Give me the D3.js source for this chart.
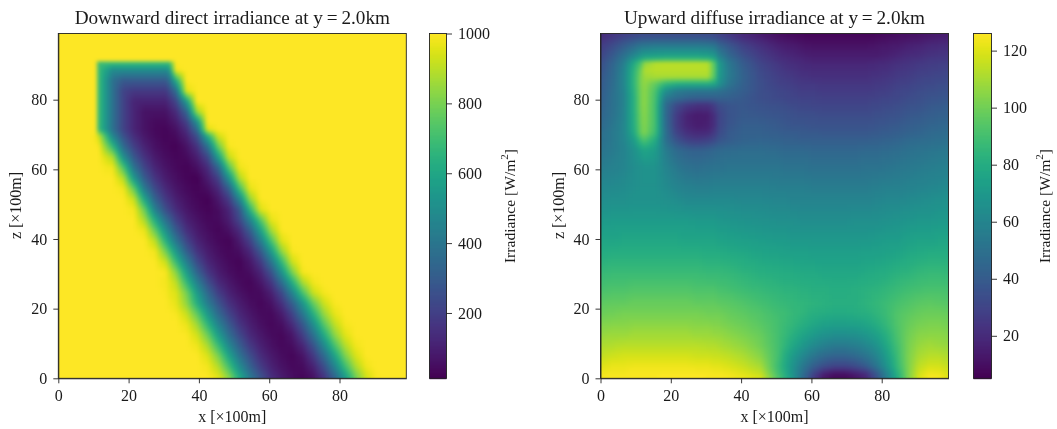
<!DOCTYPE html>
<html><head><meta charset="utf-8">
<script src="https://cdnjs.cloudflare.com/ajax/libs/d3/7.8.5/d3.min.js"></script>
<style>
html,body{margin:0;padding:0;background:#fff;overflow:hidden}
#chart{filter:blur(0.45px)}
svg{display:block}
text{font-family:"Liberation Serif",serif;fill:#1a1a1a}
</style></head><body><div id="chart"></div>
<script>
const titles=["Downward direct irradiance at y\u2009=\u20092.0km","Upward diffuse irradiance at y\u2009=\u20092.0km"];
const xLabel="x [\u00d7100m]", zLabel="z [\u00d7100m]", cbLabel="Irradiance [W/m";
const axisTicks=[0,20,40,60,80];
const directTicks=[200,400,600,800,1000];
const diffuseTicks=[20,40,60,80,100,120];
const directRange=[13,1000];
const diffuseRange=[5.1,126];

const directX=[0,3,6,9,10,11,15,18,21,24,27,30,31,33,36,39,42,45,48,51,54,57,60,63,66,69,72,75,78,81,84,87,90,93,96,99];
const directZ=[0,3,6,9,12,15,18,21,24,27,30,33,36,39,42,45,48,51,54,57,60,63,66,69,71,73,76,79,82,85,88,90,91,99];
const directValues=[
[1000,1000,1000,1000,1000,1000,1000,1000,1000,1000,1000,1000,1000,1000,1000,1000,996,953,820,607,410,261,145,87,48,30,60,163,328,552,781,930,994,1000,1000,1000],
[1000,1000,1000,1000,1000,1000,1000,1000,1000,1000,1000,1000,1000,1000,1000,1000,982,885,703,492,320,189,107,61,36,43,109,245,453,688,875,977,1000,1000,1000,1000],
[1000,1000,1000,1000,1000,1000,1000,1000,1000,1000,1000,1000,1000,1000,1000,998,943,800,588,392,247,137,82,46,28,65,176,350,575,800,940,998,1000,1000,1000,1000],
[1000,1000,1000,1000,1000,1000,1000,1000,1000,1000,1000,1000,1000,1000,1000,976,870,680,472,306,178,102,58,34,47,120,265,475,710,888,980,1000,1000,1000,1000,1000],
[1000,1000,1000,1000,1000,1000,1000,1000,1000,1000,1000,1000,1000,1000,995,928,776,562,370,230,127,76,43,31,73,195,377,608,825,953,1000,1000,1000,1000,1000,1000],
[1000,1000,1000,1000,1000,1000,1000,1000,1000,1000,1000,1000,1000,1000,970,855,658,452,292,167,97,55,32,50,133,282,497,735,900,985,1000,1000,1000,1000,1000,1000],
[1000,1000,1000,1000,1000,1000,1000,1000,1000,1000,1000,1000,997,990,916,755,542,355,217,121,72,41,35,84,208,400,632,840,960,1000,1000,1000,1000,1000,1000,1000],
[1000,1000,1000,1000,1000,1000,1000,1000,1000,1000,1000,1000,987,962,835,628,427,275,153,92,51,30,56,150,307,528,762,920,992,1000,1000,1000,1000,1000,1000,1000],
[1000,1000,1000,1000,1000,1000,1000,1000,1000,1000,1000,994,970,948,791,555,348,196,107,62,35,40,97,231,452,709,915,984,1000,1000,1000,1000,1000,1000,1000,1000],
[1000,1000,1000,1000,1000,1000,1000,1000,1000,1000,999,986,960,903,673,441,253,132,76,42,26,68,165,360,620,870,980,1000,1000,1000,1000,1000,1000,1000,1000,1000],
[1000,1000,1000,1000,1000,1000,1000,1000,1000,1000,1000,990,933,818,558,327,170,92,51,30,47,112,262,519,799,987,1000,1000,1000,1000,1000,1000,1000,1000,1000,1000],
[1000,1000,1000,1000,1000,1000,1000,1000,1000,1000,995,920,838,675,430,235,119,68,38,23,74,180,393,670,925,1000,1000,1000,1000,1000,1000,1000,1000,1000,1000,1000],
[1000,1000,1000,1000,1000,1000,1000,1000,1000,1000,980,790,705,534,308,158,87,48,29,51,123,285,546,835,990,1000,1000,1000,1000,1000,1000,1000,1000,1000,1000,1000],
[1000,1000,1000,1000,1000,1000,1000,1000,1000,1000,900,640,559,398,215,110,63,36,22,83,201,429,710,950,1000,1000,1000,1000,1000,1000,1000,1000,1000,1000,1000,1000],
[1000,1000,1000,1000,1000,1000,1000,1000,1000,970,765,510,437,290,147,82,46,27,55,133,306,573,860,995,1000,1000,1000,1000,1000,1000,1000,1000,1000,1000,1000,1000],
[1000,1000,1000,1000,1000,1000,1000,1000,998,875,614,376,318,201,104,60,34,38,91,219,456,736,965,1000,1000,1000,1000,1000,1000,1000,1000,1000,1000,1000,1000,1000],
[1000,1000,1000,1000,1000,1000,1000,1000,983,770,440,245,208,133,72,41,23,46,114,280,650,950,1000,1000,1000,1000,1000,1000,1000,1000,1000,1000,1000,1000,1000,1000],
[1000,1000,1000,1000,1000,1000,1000,1000,915,590,320,177,150,95,53,30,18,78,185,460,840,995,1000,1000,1000,1000,1000,1000,1000,1000,1000,1000,1000,1000,1000,1000],
[1000,1000,1000,1000,1000,1000,1000,980,760,415,230,125,106,68,39,23,50,125,310,690,965,1000,1000,1000,1000,1000,1000,1000,1000,1000,1000,1000,1000,1000,1000,1000],
[1000,1000,1000,1000,1000,1000,1000,890,540,295,163,87,74,49,28,17,88,205,515,880,1000,1000,1000,1000,1000,1000,1000,1000,1000,1000,1000,1000,1000,1000,1000,1000],
[1000,1000,1000,1000,1000,1000,975,725,390,217,117,64,55,36,21,52,135,335,730,975,1000,1000,1000,1000,1000,1000,1000,1000,1000,1000,1000,1000,1000,1000,1000,1000],
[1000,1000,1000,1000,1000,1000,880,510,280,155,82,46,40,27,37,95,225,560,915,1000,1000,1000,1000,1000,1000,1000,1000,1000,1000,1000,1000,1000,1000,1000,1000,1000],
[1000,1000,1000,1000,1000,990,665,358,200,108,59,34,29,20,60,155,378,770,990,1000,1000,1000,1000,1000,1000,1000,1000,1000,1000,1000,1000,1000,1000,1000,1000,1000],
[1000,1000,1000,1000,985,920,470,260,142,76,43,25,30,42,105,255,620,930,1000,1000,1000,1000,1000,1000,1000,1000,1000,1000,1000,1000,1000,1000,1000,1000,1000,1000],
[1000,1000,1000,1000,1000,688,380,210,115,63,35,27,37,58,147,367,950,1000,1000,1000,1000,1000,1000,1000,1000,1000,1000,1000,1000,1000,1000,1000,1000,1000,1000,1000],
[1000,1000,1000,1000,1000,688,380,210,115,63,38,38,54,85,200,500,1000,1000,1000,1000,1000,1000,1000,1000,1000,1000,1000,1000,1000,1000,1000,1000,1000,1000,1000,1000],
[1000,1000,1000,1000,1000,688,380,210,115,63,63,63,85,135,330,850,1000,1000,1000,1000,1000,1000,1000,1000,1000,1000,1000,1000,1000,1000,1000,1000,1000,1000,1000,1000],
[1000,1000,1000,1000,1000,688,380,210,115,106,106,106,140,220,550,1000,1000,1000,1000,1000,1000,1000,1000,1000,1000,1000,1000,1000,1000,1000,1000,1000,1000,1000,1000,1000],
[1000,1000,1000,1000,1000,688,380,210,177,177,177,177,230,367,950,1000,1000,1000,1000,1000,1000,1000,1000,1000,1000,1000,1000,1000,1000,1000,1000,1000,1000,1000,1000,1000],
[1000,1000,1000,1000,1000,688,380,294,294,294,294,294,360,620,1000,1000,1000,1000,1000,1000,1000,1000,1000,1000,1000,1000,1000,1000,1000,1000,1000,1000,1000,1000,1000,1000],
[1000,1000,1000,1000,1000,688,490,490,490,490,490,490,520,980,1000,1000,1000,1000,1000,1000,1000,1000,1000,1000,1000,1000,1000,1000,1000,1000,1000,1000,1000,1000,1000,1000],
[1000,1000,1000,1000,1000,688,688,688,688,688,688,688,688,1000,1000,1000,1000,1000,1000,1000,1000,1000,1000,1000,1000,1000,1000,1000,1000,1000,1000,1000,1000,1000,1000,1000],
[1000,1000,1000,1000,1000,1000,1000,1000,1000,1000,1000,1000,1000,1000,1000,1000,1000,1000,1000,1000,1000,1000,1000,1000,1000,1000,1000,1000,1000,1000,1000,1000,1000,1000,1000,1000],
[1000,1000,1000,1000,1000,1000,1000,1000,1000,1000,1000,1000,1000,1000,1000,1000,1000,1000,1000,1000,1000,1000,1000,1000,1000,1000,1000,1000,1000,1000,1000,1000,1000,1000,1000,1000]
];

const diffuseX=[0,3,6,9,11,12,15,18,21,24,27,30,32,33,36,40,45,50,52,54,57,60,63,66,69,72,75,78,81,84,87,90,93,96,99];
const diffuseZ=[0,1,3,6,9,12,15,18,21,25,30,35,40,45,50,55,60,65,68,70,72,75,78,80,82,84,86,88,90,91,92,95,97,99];
const diffuseValues=[
[124,125,125,125,125,125,125,126,126,126,126,125,125,125,124,122,118,92,82,70,48,28,13,8,8,12,18,36,58,80,102,118,125,124,118],
[123,124,124,125,125,125,125,125,125,125,125,125,124,124,123,120,115,90,80,68,50,32,18,13,13,17,23,39,60,82,102,117,123,122,117],
[120,122,122,123,123,123,123,123,123,123,122,122,121,121,119,116,110,88,78,68,54,42,34,30,30,33,40,52,68,86,102,114,118,118,114],
[115,117,118,118,118,118,118,118,118,118,117,117,116,116,114,111,104,90,80,72,62,53,47,44,44,47,52,60,73,88,102,110,113,113,110],
[111,112,113,113,113,113,113,113,113,113,113,112,112,111,109,106,100,90,84,78,70,63,58,55,55,57,61,67,78,90,101,107,109,108,106],
[107,108,108,109,109,109,109,109,109,109,108,108,107,107,105,102,98,90,86,82,76,71,67,65,65,66,69,74,82,92,100,104,105,105,103],
[103,104,104,105,105,105,105,105,105,105,104,104,103,103,101,99,95,90,87,85,81,77,74,73,73,74,76,80,86,93,98,101,102,102,100],
[99,100,101,101,101,101,101,101,101,101,101,100,100,100,98,96,93,89,88,86,84,81,80,79,79,80,81,84,88,93,96,98,99,99,97],
[96,97,97,98,98,98,98,98,98,98,97,97,97,96,95,93,90,87,86,85,84,83,82,81,81,81,83,85,88,91,93,95,96,95,94],
[91,92,92,93,93,93,93,93,93,93,92,92,92,91,90,88,86,84,83,83,82,81,81,80,80,81,82,83,85,87,89,90,91,91,90],
[86,87,87,87,87,87,87,87,87,87,87,86,86,86,85,83,81,80,79,79,78,78,77,77,77,77,78,79,80,82,83,85,86,86,85],
[80,81,81,81,81,81,81,81,81,81,81,80,80,80,79,78,76,75,74,74,74,73,73,73,73,73,74,74,75,76,78,79,80,80,80],
[75,75,76,76,76,76,76,76,76,75,75,75,75,74,73,72,71,70,70,69,69,69,69,69,69,69,69,70,71,71,73,74,74,75,75],
[70,71,71,71,71,71,71,71,71,71,70,70,70,69,68,67,66,65,65,65,64,64,64,64,64,65,65,65,66,67,68,69,69,70,70],
[65,66,66,67,67,67,67,66,65,63,63,63,63,63,63,62,62,61,61,60,60,60,60,60,60,60,60,61,62,62,63,64,65,66,67],
[61,62,63,65,66,66,66,63,59,57,56,56,57,57,57,57,57,56,56,56,56,55,55,55,55,55,55,56,57,57,58,59,60,61,62],
[56,58,60,64,66,67,67,60,54,50,49,50,51,51,52,52,52,52,51,51,51,50,50,50,50,50,51,51,52,53,54,55,56,57,58],
[52,55,59,66,73,76,72,56,47,43,42,43,45,46,47,48,48,47,46,46,46,45,45,45,45,45,46,46,47,48,50,51,52,53,54],
[50,54,60,72,88,92,80,50,36,28,26,28,32,36,40,43,44,43,42,42,41,41,41,41,41,41,41,42,43,44,46,47,48,49,50],
[49,54,60,78,98,102,88,50,30,22,19,20,26,32,39,42,42,41,40,40,39,39,38,38,38,38,38,39,40,41,43,44,46,47,48],
[47,53,60,80,99,103,90,48,27,18,15,16,22,30,37,41,41,39,38,37,37,36,36,36,36,36,36,37,38,39,41,42,44,45,46],
[45,51,59,81,100,104,90,47,27,17,14,15,22,29,36,39,38,37,36,35,34,34,33,33,33,33,33,34,35,36,38,39,41,42,43],
[43,50,58,82,101,105,90,48,33,26,23,23,28,33,37,38,36,34,33,32,31,30,30,30,30,30,30,31,32,33,35,36,38,39,41],
[42,50,58,82,101,105,91,55,48,44,42,42,42,43,42,39,34,32,31,30,29,29,28,28,28,28,28,29,30,31,33,34,36,37,38],
[41,49,59,83,101,105,92,66,56,53,52,52,51,50,46,41,34,31,30,29,27,27,26,26,26,26,26,27,28,30,31,33,34,35,36],
[40,48,60,84,102,106,97,85,80,79,79,79,76,68,52,42,34,29,28,27,25,25,24,24,24,24,24,25,26,28,29,31,32,33,34],
[39,47,60,84,102,108,110,110,110,110,110,110,92,72,55,43,33,28,26,25,23,22,22,22,22,22,22,23,24,26,27,29,30,31,32],
[37,46,59,83,100,111,113,113,113,113,113,113,94,73,55,42,32,26,24,23,21,20,20,20,20,20,20,21,22,24,25,27,28,29,30],
[35,44,56,78,92,105,112,113,113,113,113,112,92,72,53,40,30,24,22,21,19,18,18,18,18,18,18,19,20,22,23,25,26,27,28],
[33,42,53,70,80,85,88,90,90,90,90,88,80,66,50,38,28,22,21,19,18,16,16,16,16,16,16,17,18,20,22,23,25,25,26],
[31,40,50,62,70,73,75,76,76,76,76,75,70,60,46,35,27,21,19,18,16,15,15,15,15,15,15,15,16,18,20,21,23,24,25],
[27,33,40,47,52,53,55,55,55,55,55,54,52,46,38,29,22,16,15,14,12,11,11,11,11,11,11,12,13,14,16,17,19,20,21],
[23,27,32,36,38,38,39,39,39,39,39,38,37,34,29,22,17,12,11,10,9,8,8,8,8,8,8,9,10,11,12,13,15,16,17],
[18,21,24,26,27,28,28,28,28,28,28,28,27,25,21,17,12,8,7,7,6,6,6,6,6,6,6,6,7,8,9,10,11,12,13]
];

const W=1057,H=429;
const svg=d3.select("#chart").append("svg").attr("width",W).attr("height",H);

function field(xs,zs,rows,color){
  const n=99,k=4;
  const fx=d3.scaleLinear().domain(xs).range(d3.range(xs.length)).clamp(true);
  const fz=d3.scaleLinear().domain(zs).range(d3.range(zs.length)).clamp(true);
  const c=document.createElement("canvas");c.width=n;c.height=n;
  const ctx=c.getContext("2d");
  for(let j=0;j<n;j++){
    const zf=fz(j),z0=Math.min(Math.floor(zf),zs.length-2),tz=zf-z0;
    for(let i=0;i<n;i++){
      const xf=fx(i),x0=Math.min(Math.floor(xf),xs.length-2),tx=xf-x0;
      const a=rows[z0][x0]*(1-tx)+rows[z0][x0+1]*tx;
      const b=rows[z0+1][x0]*(1-tx)+rows[z0+1][x0+1]*tx;
      ctx.fillStyle=color(a*(1-tz)+b*tz);
      ctx.fillRect(i,n-1-j,1,1);
    }
  }
  const big=document.createElement("canvas");big.width=n*k;big.height=n*k;
  const b2=big.getContext("2d");
  b2.imageSmoothingEnabled=false;
  b2.drawImage(c,0,0,n*k,n*k);
  const soft=document.createElement("canvas");soft.width=n*k;soft.height=n*k;
  const s2=soft.getContext("2d");
  s2.drawImage(big,0,0);
  s2.filter="blur(2.2px)";
  s2.drawImage(big,0,0);
  return soft.toDataURL();
}

function panel(o){
  const x=d3.scaleLinear().domain([0,99]).range([o.left,o.left+348]);
  const y=d3.scaleLinear().domain([0,99]).range([378.3,33.5]);
  const color=d3.scaleSequential(d3.interpolateViridis).domain(o.range);
  const g=svg.append("g");
  g.append("image").attr("x",x(0)).attr("y",y(99)).attr("width",x(99)-x(0)).attr("height",y(0)-y(99))
    .attr("preserveAspectRatio","none")
    .attr("href",field(o.xs,o.zs,o.values,color));
  const style=(a)=>{a.selectAll("text").attr("font-size",16).attr("font-family","Liberation Serif");
    a.selectAll("line").attr("stroke","#222").attr("stroke-width",0.9);a.select(".domain").attr("stroke","#222").attr("stroke-width",0.9);};
  g.append("g").attr("transform",`translate(0,${y(0)})`)
    .call(d3.axisBottom(x).tickValues(axisTicks).tickFormat(d3.format("d")).tickSize(5).tickSizeOuter(0).tickPadding(6)).call(style);
  g.append("g").attr("transform",`translate(${x(0)},0)`)
    .call(d3.axisLeft(y).tickValues(axisTicks).tickFormat(d3.format("d")).tickSize(5).tickSizeOuter(0).tickPadding(6)).call(style);
  g.append("rect").attr("x",x(0)).attr("y",y(99)).attr("width",x(99)-x(0)).attr("height",y(0)-y(99))
    .attr("fill","none").attr("stroke","#222").attr("stroke-width",0.9);
  g.append("text").attr("x",(x(0)+x(99))/2).attr("y",24).attr("text-anchor","middle").attr("font-size",19.2).text(o.title);
  g.append("text").attr("x",(x(0)+x(99))/2).attr("y",422).attr("text-anchor","middle").attr("font-size",16).text(xLabel);
  g.append("text").attr("transform",`translate(${o.left-37},205.5) rotate(-90)`).attr("text-anchor","middle").attr("font-size",16).text(zLabel);
  // colour bar
  const cb=d3.scaleLinear().domain(o.range).range([378.3,33.5]);
  const bar=g.append("g");
  bar.selectAll("rect").data(d3.range(34,378.5,1)).join("rect")
    .attr("x",o.cbLeft).attr("width",o.cbWidth).attr("y",d=>d-0.2).attr("height",1.4)
    .attr("fill",d=>color(cb.invert(d+0.5)));
  bar.append("rect").attr("x",o.cbLeft).attr("y",33.5).attr("width",o.cbWidth).attr("height",344.8)
    .attr("fill","none").attr("stroke","#222").attr("stroke-width",0.9);
  g.append("g").attr("transform",`translate(${o.cbLeft+o.cbWidth},0)`)
    .call(d3.axisRight(cb).tickValues(o.ticks).tickFormat(d3.format("d")).tickSize(5.5).tickSizeOuter(0).tickPadding(6)).call(style)
    .call(a=>a.select(".domain").remove());
  const t=g.append("text").attr("transform",`translate(${o.cbLeft+o.cbWidth+o.labelGap},206) rotate(-90)`).attr("text-anchor","middle").attr("font-size",15.6);
  t.append("tspan").text(cbLabel);
  t.append("tspan").attr("dy",-7).attr("font-size",11).text("2");
  t.append("tspan").attr("dy",7).text("]");
}

panel({left:58.3,title:titles[0],xs:directX,zs:directZ,values:directValues,range:directRange,ticks:directTicks,cbLeft:429.5,cbWidth:17,labelGap:68.5});
panel({left:600.5,title:titles[1],xs:diffuseX,zs:diffuseZ,values:diffuseValues,range:diffuseRange,ticks:diffuseTicks,cbLeft:973.5,cbWidth:18,labelGap:58.5});
</script></body></html>
